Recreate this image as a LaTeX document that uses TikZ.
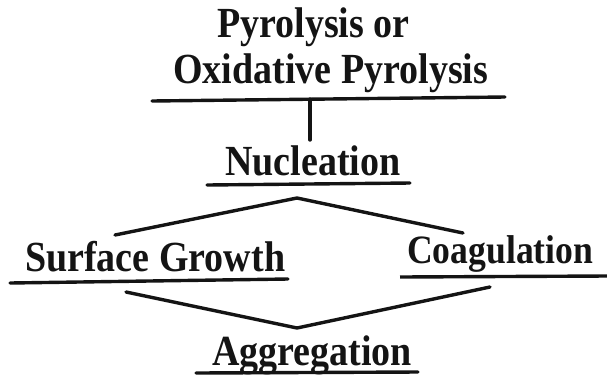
\documentclass[tikz,border=0pt]{standalone}
\usepackage{graphicx}
\usepackage{fontspec}
\setmainfont{Liberation Serif}
\newcommand{\tallt}[1]{\scalebox{1}[1.13]{#1}}
\begin{document}
\begin{tikzpicture}[x=1pt,y=-1pt,
  lbl/.style={anchor=base west,inner sep=0pt,font=\bfseries\fontsize{38}{40}\selectfont,text=black!92},
  ln/.style={line width=3.4pt,draw=black!92,line cap=round}]
\useasboundingbox (0,0) rectangle (607,376);
\node[lbl] (pyr) at (217,37) {\tallt{Pyrolysis or}};
\node[lbl] (oxp) at (173,83) {\tallt{Oxidative Pyrolysis}};
\node[lbl] (nuc) at (225,175) {\tallt{Nucleation}};
\node[lbl] (sg) at (25,271) {\tallt{Surface Growth}};
\node[lbl,font=\bfseries\fontsize{35.6}{38}\selectfont] (coa) at (407,263) {\tallt{Coagulation}};
\node[lbl] (agg) at (212,365) {\tallt{Aggregation}};
% underline coordinates
\coordinate (t1) at (152,101); \coordinate (t2) at (505,97);
\coordinate (tm) at (310,99); \coordinate (nv) at (310,140);
\coordinate (n1) at (207,185); \coordinate (n2) at (410,183);
\coordinate (s1) at (10,283); \coordinate (s2) at (288,279);
\coordinate (c1) at (400,277); \coordinate (c2) at (607,276);
\coordinate (a1) at (196,373); \coordinate (a2) at (418,372);
\coordinate (ul) at (115,235); \coordinate (uap) at (297,198); \coordinate (ur) at (463,233);
\coordinate (ll) at (126,292); \coordinate (lap) at (297,328); \coordinate (lr) at (490,287);
\draw[ln] (t1) -- (t2);
\draw[ln] (tm) -- (nv);
\draw[ln] (n1) -- (n2);
\draw[ln] (s1) -- (s2);
\draw[ln,line cap=butt] (c1) -- (c2);
\draw[ln] (a1) -- (a2);
\draw[ln,line join=miter] (ul) -- (uap) -- (ur);
\draw[ln,line join=miter] (ll) -- (lap) -- (lr);
\end{tikzpicture}
\end{document}
